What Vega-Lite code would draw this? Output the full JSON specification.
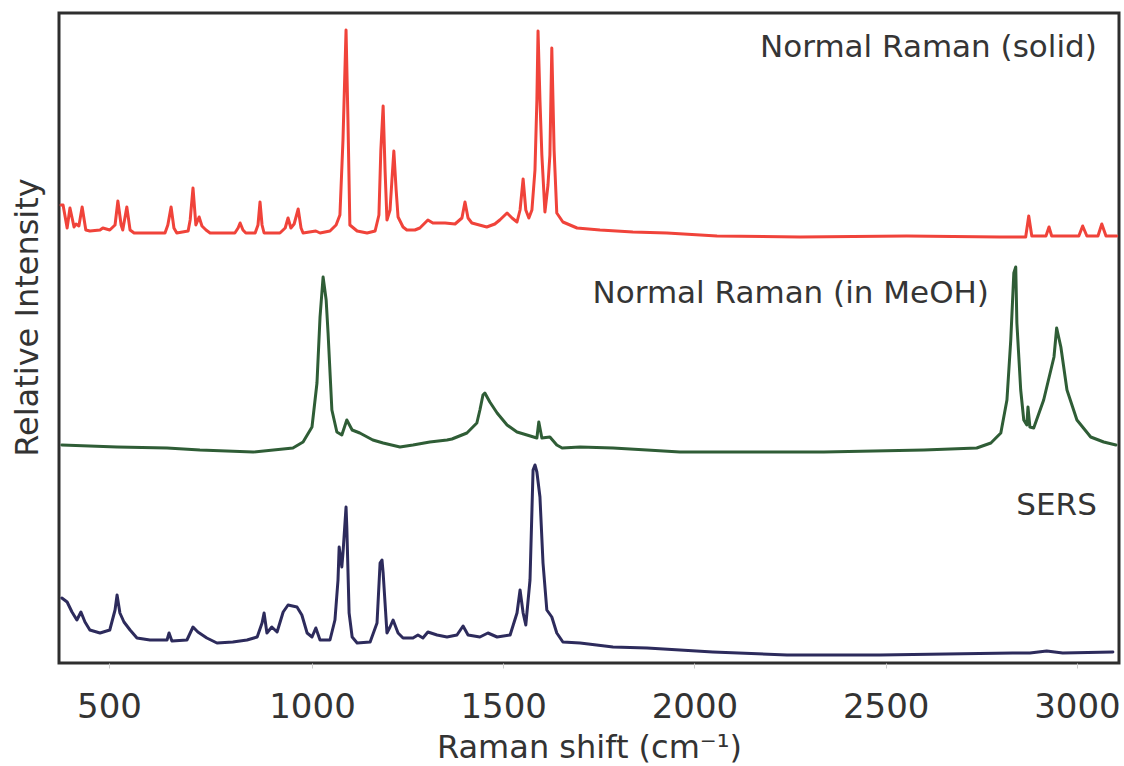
{
  "$schema": "https://vega.github.io/schema/vega-lite/v6.json",
  "width": 1060,
  "height": 650,
  "autosize": "none",
  "padding": {"left": 59, "top": 13, "right": 5, "bottom": 103},
  "background": "white",
  "config": {
    "view": {"stroke": "#2e2e2e", "strokeWidth": 3},
    "font": "DejaVu Sans"
  },
  "datasets": {
    "spectra": [
      {"series":"solid","shift":382,"intensity":458},{"series":"solid","shift":387,"intensity":458},{"series":"solid","shift":397,"intensity":435},{"series":"solid","shift":404,"intensity":455},{"series":"solid","shift":414,"intensity":436},{"series":"solid","shift":419,"intensity":439},{"series":"solid","shift":426,"intensity":437},{"series":"solid","shift":434,"intensity":456},{"series":"solid","shift":443,"intensity":433},{"series":"solid","shift":453,"intensity":432},{"series":"solid","shift":478,"intensity":433},{"series":"solid","shift":485,"intensity":435},{"series":"solid","shift":502,"intensity":433},{"series":"solid","shift":515,"intensity":438},{"series":"solid","shift":522,"intensity":462},{"series":"solid","shift":530,"intensity":438},{"series":"solid","shift":534,"intensity":433},{"series":"solid","shift":544,"intensity":456},{"series":"solid","shift":552,"intensity":433},{"series":"solid","shift":562,"intensity":430},{"series":"solid","shift":601,"intensity":430},{"series":"solid","shift":638,"intensity":430},{"series":"solid","shift":645,"intensity":438},{"series":"solid","shift":653,"intensity":456},{"series":"solid","shift":660,"intensity":435},{"series":"solid","shift":667,"intensity":430},{"series":"solid","shift":695,"intensity":432},{"series":"solid","shift":700,"intensity":443},{"series":"solid","shift":707,"intensity":475},{"series":"solid","shift":714,"intensity":438},{"series":"solid","shift":722,"intensity":446},{"series":"solid","shift":729,"intensity":437},{"series":"solid","shift":739,"intensity":433},{"series":"solid","shift":749,"intensity":430},{"series":"solid","shift":810,"intensity":430},{"series":"solid","shift":818,"intensity":435},{"series":"solid","shift":823,"intensity":440},{"series":"solid","shift":830,"intensity":433},{"series":"solid","shift":837,"intensity":430},{"series":"solid","shift":860,"intensity":430},{"series":"solid","shift":867,"intensity":438},{"series":"solid","shift":872,"intensity":461},{"series":"solid","shift":877,"intensity":438},{"series":"solid","shift":882,"intensity":430},{"series":"solid","shift":921,"intensity":430},{"series":"solid","shift":934,"intensity":435},{"series":"solid","shift":941,"intensity":445},{"series":"solid","shift":948,"intensity":435},{"series":"solid","shift":956,"intensity":439},{"series":"solid","shift":966,"intensity":454},{"series":"solid","shift":973,"intensity":435},{"series":"solid","shift":978,"intensity":430},{"series":"solid","shift":1010,"intensity":432},{"series":"solid","shift":1021,"intensity":430},{"series":"solid","shift":1047,"intensity":432},{"series":"solid","shift":1063,"intensity":438},{"series":"solid","shift":1073,"intensity":448},{"series":"solid","shift":1081,"intensity":523},{"series":"solid","shift":1089,"intensity":633},{"series":"solid","shift":1094,"intensity":543},{"series":"solid","shift":1099,"intensity":438},{"series":"solid","shift":1118,"intensity":432},{"series":"solid","shift":1144,"intensity":430},{"series":"solid","shift":1165,"intensity":432},{"series":"solid","shift":1175,"intensity":448},{"series":"solid","shift":1180,"intensity":513},{"series":"solid","shift":1186,"intensity":557},{"series":"solid","shift":1191,"intensity":493},{"series":"solid","shift":1196,"intensity":443},{"series":"solid","shift":1204,"intensity":453},{"series":"solid","shift":1209,"intensity":483},{"series":"solid","shift":1214,"intensity":512},{"series":"solid","shift":1220,"intensity":473},{"series":"solid","shift":1225,"intensity":446},{"series":"solid","shift":1238,"intensity":436},{"series":"solid","shift":1248,"intensity":433},{"series":"solid","shift":1269,"intensity":433},{"series":"solid","shift":1282,"intensity":435},{"series":"solid","shift":1303,"intensity":443},{"series":"solid","shift":1316,"intensity":440},{"series":"solid","shift":1348,"intensity":440},{"series":"solid","shift":1374,"intensity":439},{"series":"solid","shift":1392,"intensity":445},{"series":"solid","shift":1400,"intensity":461},{"series":"solid","shift":1408,"intensity":445},{"series":"solid","shift":1418,"intensity":440},{"series":"solid","shift":1457,"intensity":436},{"series":"solid","shift":1478,"intensity":439},{"series":"solid","shift":1491,"intensity":443},{"series":"solid","shift":1510,"intensity":450},{"series":"solid","shift":1523,"intensity":445},{"series":"solid","shift":1536,"intensity":441},{"series":"solid","shift":1544,"intensity":453},{"series":"solid","shift":1552,"intensity":484},{"series":"solid","shift":1559,"intensity":453},{"series":"solid","shift":1567,"intensity":445},{"series":"solid","shift":1575,"intensity":453},{"series":"solid","shift":1583,"intensity":493},{"series":"solid","shift":1588,"intensity":563},{"series":"solid","shift":1591,"intensity":632},{"series":"solid","shift":1596,"intensity":563},{"series":"solid","shift":1601,"intensity":508},{"series":"solid","shift":1609,"intensity":451},{"series":"solid","shift":1617,"intensity":478},{"series":"solid","shift":1622,"intensity":508},{"series":"solid","shift":1627,"intensity":615},{"series":"solid","shift":1633,"intensity":513},{"series":"solid","shift":1640,"intensity":450},{"series":"solid","shift":1656,"intensity":441},{"series":"solid","shift":1693,"intensity":435},{"series":"solid","shift":1753,"intensity":433},{"series":"solid","shift":1839,"intensity":431},{"series":"solid","shift":1928,"intensity":430},{"series":"solid","shift":2059,"intensity":427},{"series":"solid","shift":2276,"intensity":426},{"series":"solid","shift":2555,"intensity":427},{"series":"solid","shift":2798,"intensity":426},{"series":"solid","shift":2866,"intensity":426},{"series":"solid","shift":2874,"intensity":447},{"series":"solid","shift":2882,"intensity":427},{"series":"solid","shift":2919,"intensity":427},{"series":"solid","shift":2927,"intensity":436},{"series":"solid","shift":2934,"intensity":427},{"series":"solid","shift":3005,"intensity":427},{"series":"solid","shift":3015,"intensity":437},{"series":"solid","shift":3026,"intensity":427},{"series":"solid","shift":3055,"intensity":427},{"series":"solid","shift":3065,"intensity":439},{"series":"solid","shift":3076,"intensity":427},{"series":"solid","shift":3104,"intensity":427},

      {"series":"MeOH","shift":384,"intensity":218},{"series":"MeOH","shift":520,"intensity":216},{"series":"MeOH","shift":643,"intensity":215},{"series":"MeOH","shift":724,"intensity":213},{"series":"MeOH","shift":855,"intensity":211},{"series":"MeOH","shift":953,"intensity":215},{"series":"MeOH","shift":978,"intensity":221},{"series":"MeOH","shift":1000,"intensity":236},{"series":"MeOH","shift":1013,"intensity":280},{"series":"MeOH","shift":1021,"intensity":346},{"series":"MeOH","shift":1029,"intensity":386},{"series":"MeOH","shift":1037,"intensity":363},{"series":"MeOH","shift":1042,"intensity":330},{"series":"MeOH","shift":1052,"intensity":253},{"series":"MeOH","shift":1065,"intensity":231},{"series":"MeOH","shift":1078,"intensity":228},{"series":"MeOH","shift":1091,"intensity":243},{"series":"MeOH","shift":1105,"intensity":233},{"series":"MeOH","shift":1125,"intensity":230},{"series":"MeOH","shift":1159,"intensity":223},{"series":"MeOH","shift":1186,"intensity":220},{"series":"MeOH","shift":1230,"intensity":216},{"series":"MeOH","shift":1264,"intensity":218},{"series":"MeOH","shift":1308,"intensity":221},{"series":"MeOH","shift":1353,"intensity":223},{"series":"MeOH","shift":1366,"intensity":224},{"series":"MeOH","shift":1405,"intensity":230},{"series":"MeOH","shift":1431,"intensity":240},{"series":"MeOH","shift":1439,"intensity":253},{"series":"MeOH","shift":1447,"intensity":268},{"series":"MeOH","shift":1452,"intensity":270},{"series":"MeOH","shift":1465,"intensity":261},{"series":"MeOH","shift":1484,"intensity":250},{"series":"MeOH","shift":1510,"intensity":238},{"series":"MeOH","shift":1536,"intensity":231},{"series":"MeOH","shift":1562,"intensity":228},{"series":"MeOH","shift":1588,"intensity":225},{"series":"MeOH","shift":1593,"intensity":241},{"series":"MeOH","shift":1601,"intensity":225},{"series":"MeOH","shift":1622,"intensity":226},{"series":"MeOH","shift":1640,"intensity":218},{"series":"MeOH","shift":1654,"intensity":215},{"series":"MeOH","shift":1701,"intensity":216},{"series":"MeOH","shift":1787,"intensity":215},{"series":"MeOH","shift":1876,"intensity":213},{"series":"MeOH","shift":1962,"intensity":211},{"series":"MeOH","shift":2338,"intensity":211},{"series":"MeOH","shift":2600,"intensity":213},{"series":"MeOH","shift":2738,"intensity":215},{"series":"MeOH","shift":2775,"intensity":220},{"series":"MeOH","shift":2801,"intensity":230},{"series":"MeOH","shift":2817,"intensity":263},{"series":"MeOH","shift":2827,"intensity":323},{"series":"MeOH","shift":2835,"intensity":390},{"series":"MeOH","shift":2840,"intensity":396},{"series":"MeOH","shift":2843,"intensity":340},{"series":"MeOH","shift":2853,"intensity":273},{"series":"MeOH","shift":2861,"intensity":243},{"series":"MeOH","shift":2869,"intensity":238},{"series":"MeOH","shift":2872,"intensity":256},{"series":"MeOH","shift":2877,"intensity":236},{"series":"MeOH","shift":2887,"intensity":235},{"series":"MeOH","shift":2913,"intensity":263},{"series":"MeOH","shift":2940,"intensity":306},{"series":"MeOH","shift":2947,"intensity":335},{"series":"MeOH","shift":2958,"intensity":316},{"series":"MeOH","shift":2974,"intensity":273},{"series":"MeOH","shift":3000,"intensity":243},{"series":"MeOH","shift":3036,"intensity":226},{"series":"MeOH","shift":3070,"intensity":221},{"series":"MeOH","shift":3102,"intensity":218},

      {"series":"SERS","shift":384,"intensity":65},{"series":"SERS","shift":397,"intensity":61},{"series":"SERS","shift":409,"intensity":51},{"series":"SERS","shift":421,"intensity":43},{"series":"SERS","shift":431,"intensity":51},{"series":"SERS","shift":441,"intensity":41},{"series":"SERS","shift":453,"intensity":33},{"series":"SERS","shift":478,"intensity":30},{"series":"SERS","shift":502,"intensity":33},{"series":"SERS","shift":515,"intensity":53},{"series":"SERS","shift":520,"intensity":68},{"series":"SERS","shift":527,"intensity":50},{"series":"SERS","shift":537,"intensity":41},{"series":"SERS","shift":552,"intensity":33},{"series":"SERS","shift":569,"intensity":25},{"series":"SERS","shift":601,"intensity":23},{"series":"SERS","shift":643,"intensity":23},{"series":"SERS","shift":648,"intensity":30},{"series":"SERS","shift":655,"intensity":22},{"series":"SERS","shift":692,"intensity":23},{"series":"SERS","shift":707,"intensity":36},{"series":"SERS","shift":719,"intensity":31},{"series":"SERS","shift":741,"intensity":25},{"series":"SERS","shift":766,"intensity":20},{"series":"SERS","shift":805,"intensity":21},{"series":"SERS","shift":840,"intensity":23},{"series":"SERS","shift":865,"intensity":26},{"series":"SERS","shift":877,"intensity":40},{"series":"SERS","shift":882,"intensity":50},{"series":"SERS","shift":889,"intensity":30},{"series":"SERS","shift":901,"intensity":36},{"series":"SERS","shift":914,"intensity":31},{"series":"SERS","shift":929,"intensity":51},{"series":"SERS","shift":941,"intensity":58},{"series":"SERS","shift":963,"intensity":56},{"series":"SERS","shift":975,"intensity":48},{"series":"SERS","shift":988,"intensity":30},{"series":"SERS","shift":1000,"intensity":26},{"series":"SERS","shift":1010,"intensity":35},{"series":"SERS","shift":1021,"intensity":23},{"series":"SERS","shift":1047,"intensity":23},{"series":"SERS","shift":1060,"intensity":43},{"series":"SERS","shift":1068,"intensity":83},{"series":"SERS","shift":1071,"intensity":116},{"series":"SERS","shift":1078,"intensity":96},{"series":"SERS","shift":1081,"intensity":110},{"series":"SERS","shift":1089,"intensity":156},{"series":"SERS","shift":1091,"intensity":136},{"series":"SERS","shift":1097,"intensity":50},{"series":"SERS","shift":1105,"intensity":26},{"series":"SERS","shift":1118,"intensity":20},{"series":"SERS","shift":1152,"intensity":21},{"series":"SERS","shift":1170,"intensity":40},{"series":"SERS","shift":1178,"intensity":100},{"series":"SERS","shift":1183,"intensity":103},{"series":"SERS","shift":1186,"intensity":90},{"series":"SERS","shift":1196,"intensity":30},{"series":"SERS","shift":1204,"intensity":36},{"series":"SERS","shift":1212,"intensity":43},{"series":"SERS","shift":1225,"intensity":30},{"series":"SERS","shift":1238,"intensity":25},{"series":"SERS","shift":1264,"intensity":25},{"series":"SERS","shift":1277,"intensity":28},{"series":"SERS","shift":1290,"intensity":25},{"series":"SERS","shift":1303,"intensity":31},{"series":"SERS","shift":1327,"intensity":28},{"series":"SERS","shift":1353,"intensity":26},{"series":"SERS","shift":1379,"intensity":28},{"series":"SERS","shift":1395,"intensity":37},{"series":"SERS","shift":1408,"intensity":28},{"series":"SERS","shift":1439,"intensity":26},{"series":"SERS","shift":1460,"intensity":30},{"series":"SERS","shift":1484,"intensity":26},{"series":"SERS","shift":1518,"intensity":28},{"series":"SERS","shift":1536,"intensity":50},{"series":"SERS","shift":1544,"intensity":73},{"series":"SERS","shift":1552,"intensity":50},{"series":"SERS","shift":1559,"intensity":38},{"series":"SERS","shift":1570,"intensity":83},{"series":"SERS","shift":1578,"intensity":193},{"series":"SERS","shift":1583,"intensity":198},{"series":"SERS","shift":1588,"intensity":191},{"series":"SERS","shift":1596,"intensity":166},{"series":"SERS","shift":1604,"intensity":100},{"series":"SERS","shift":1614,"intensity":53},{"series":"SERS","shift":1627,"intensity":46},{"series":"SERS","shift":1640,"intensity":30},{"series":"SERS","shift":1656,"intensity":21},{"series":"SERS","shift":1701,"intensity":20},{"series":"SERS","shift":1787,"intensity":16},{"series":"SERS","shift":1876,"intensity":15},{"series":"SERS","shift":1962,"intensity":13},{"series":"SERS","shift":2048,"intensity":11},{"series":"SERS","shift":2242,"intensity":8},{"series":"SERS","shift":2485,"intensity":8},{"series":"SERS","shift":2832,"intensity":10},{"series":"SERS","shift":2877,"intensity":10},{"series":"SERS","shift":2921,"intensity":12},{"series":"SERS","shift":2963,"intensity":10},{"series":"SERS","shift":3094,"intensity":11}
    ],
    "labels": [
      {"label": "Normal Raman (solid)", "shift": 3052, "intensity": 606},
      {"label": "Normal Raman (in MeOH)", "shift": 2770, "intensity": 360},
      {"label": "SERS", "shift": 3052, "intensity": 148}
    ]
  },
  "layer": [
    {
      "data": {"name": "spectra"},
      "mark": {"type": "line", "strokeWidth": 3, "strokeJoin": "round", "strokeCap": "round"},
      "encoding": {
        "x": {
          "field": "shift", "type": "quantitative",
          "scale": {"domain": [377, 1000, 3110], "range": [0, 253, 1060], "nice": false, "zero": false},
          "axis": {
            "values": [500, 1000, 1500, 2000, 2500, 3000],
            "format": "d",
            "title": "Raman shift (cm⁻¹)",
            "domain": false, "grid": false,
            "ticks": true, "tickSize": 5, "tickColor": "#cccccc", "tickWidth": 1,
            "labelFontSize": 34, "labelColor": "#333333", "labelFont": "DejaVu Sans",
            "labelBaseline": "alphabetic", "labelPadding": 49, "labelFlush": false,
            "titleFontSize": 32, "titleFontWeight": "normal", "titleColor": "#333333", "titleFont": "DejaVu Sans",
            "titleBaseline": "alphabetic", "titleY": 94
          }
        },
        "y": {
          "field": "intensity", "type": "quantitative",
          "scale": {"domain": [0, 650], "nice": false, "zero": false},
          "axis": {
            "title": "Relative Intensity",
            "labels": false, "ticks": false, "domain": false, "grid": false,
            "titleFontSize": 32, "titleFontWeight": "normal", "titleColor": "#333333", "titleFont": "DejaVu Sans",
            "titleAngle": -90, "titleAlign": "center", "titleBaseline": "alphabetic",
            "titleX": -22, "titleY": 304
          }
        },
        "color": {
          "field": "series", "type": "nominal",
          "scale": {"domain": ["solid", "MeOH", "SERS"], "range": ["#f0433a", "#2f5d36", "#2d2b5c"]},
          "legend": null
        }
      }
    },
    {
      "data": {"name": "labels"},
      "mark": {"type": "text", "align": "right", "baseline": "alphabetic", "fontSize": 31, "font": "DejaVu Sans", "color": "#353535"},
      "encoding": {
        "x": {"field": "shift", "type": "quantitative"},
        "y": {"field": "intensity", "type": "quantitative"},
        "text": {"field": "label"}
      }
    }
  ]
}
